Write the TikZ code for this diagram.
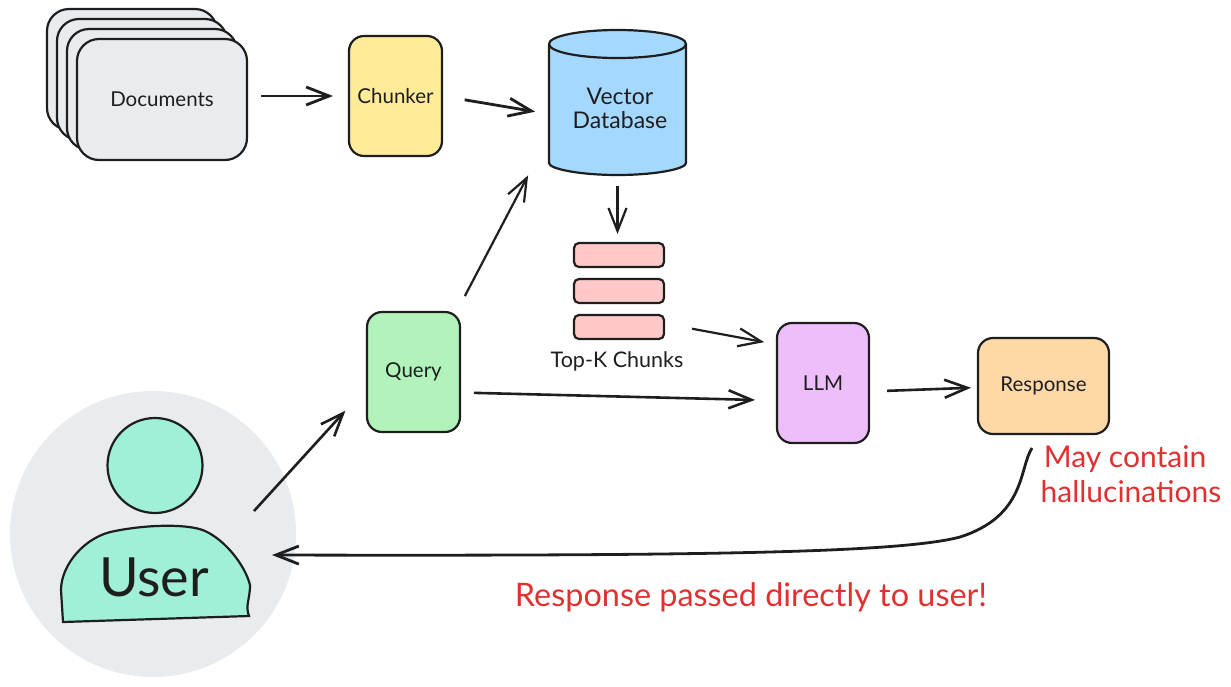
\documentclass[tikz,border=0pt]{standalone}
\usepackage{fontspec}
\setmainfont{Lato}
\usetikzlibrary{arrows.meta}

\definecolor{inkblack}{HTML}{1E1E1E}
\definecolor{docgray}{HTML}{E9ECEF}
\definecolor{chunkeryellow}{HTML}{FFEC99}
\definecolor{dbblue}{HTML}{A5D8FF}
\definecolor{chunkred}{HTML}{FFC9C9}
\definecolor{querygreen}{HTML}{B2F2BB}
\definecolor{llmpurple}{HTML}{EEBEFA}
\definecolor{resporange}{HTML}{FFD8A8}
\definecolor{usermint}{HTML}{9FF0D7}
\definecolor{notered}{HTML}{E03131}

\begin{document}
\begin{tikzpicture}
    [x=1pt,y=-1pt,%%%%%%%%%%%%%%%%%%%%%%%%%%%%%%
    box/.style={rectangle,draw=inkblack,line width=2.2pt,rounded corners=15pt,inner sep=0pt,outer sep=0pt,text=inkblack,font=\fontsize{20.5}{24}\selectfont},
    card/.style={box,fill=docgray,minimum width=170pt,minimum height=121pt,rounded corners=22pt},
    chunkbox/.style={box,fill=chunkred,minimum width=90pt,minimum height=24pt,rounded corners=5pt},
    arrowline/.style={-{Straight Barb[length=23pt,width=18pt]},draw=inkblack,line width=2.2pt},
    redtext/.style={text=notered,inner sep=0pt,font=\fontsize{30}{36}\selectfont},
    ]%%%%%%%%%%%%%%%%%%%%%%%%%%%%%%

    \useasboundingbox (0,0) rectangle (1231,686);

    % documents
    \node[card] at (132,69.5) (doc_d) {};
    \node[card] at (142,79.5) (doc_c) {};
    \node[card] at (152,89.5) (doc_b) {};
    \node[card] at (162,99.5) (documents) {Documents};

    % chunker
    \node[box,fill=chunkeryellow,minimum width=93pt,minimum height=120pt] at (395.5,96) (chunker) {Chunker};

    % database
    \draw[fill=dbblue,draw=inkblack,line width=2.2pt] (549,44) -- (549,163) .. controls (549,169) and (580,175) .. (617.5,175) .. controls (655,175) and (686,169) .. (686,163) -- (686,44) .. controls (686,36) and (655,30) .. (617.5,30) .. controls (580,30) and (549,36) .. (549,44) -- cycle;
    \draw[draw=inkblack,line width=2.2pt] (549,44) .. controls (549,52) and (580,58) .. (617.5,58) .. controls (655,58) and (686,52) .. (686,44);
    \node[minimum width=137pt,minimum height=145pt,inner sep=0pt,outer sep=0pt] at (617.5,102.5) (db) {};
    \node[text=inkblack,align=center,inner sep=0pt,font=\fontsize{23}{24}\selectfont] at (620,108) (db_text) {Vector\\Database};

    % top-k chunks
    \node[chunkbox] at (619,255) (chunk_a) {};
    \node[chunkbox] at (619,291) (chunk_b) {};
    \node[chunkbox] at (619,327) (chunk_c) {};
    \node[text=inkblack,inner sep=0pt,font=\fontsize{21.5}{24}\selectfont] at (617,361) (chunk_text) {Top-K Chunks};

    % query, llm, response
    \node[box,fill=querygreen,minimum width=93pt,minimum height=120pt] at (413.5,372) (query) {Query};
    \node[box,fill=llmpurple,minimum width=92pt,minimum height=120pt] at (823,383) (llm) {LLM};
    \node[box,fill=resporange,minimum width=131pt,minimum height=96pt] at (1043.5,386) (response) {Response};

    % user
    \node[circle,fill=docgray,minimum size=286pt,inner sep=0pt] at (153,534) (user) {};
    \node[circle,fill=usermint,draw=inkblack,line width=2.2pt,minimum size=95pt,inner sep=0pt] at (155,465.5) (head) {};
    \draw[fill=usermint,draw=inkblack,line width=2.2pt] (63,622) -- (61,590) .. controls (61,565) and (85,536) .. (115,531) .. controls (150,524) and (190,524) .. (205,531) .. controls (225,540) and (245,565) .. (250,585) .. controls (250,600) and (245,605) .. (249,616) -- cycle;
    \node[text=inkblack,inner sep=0pt,font=\fontsize{54}{58}\selectfont] at (154,577) (user_text) {User};
    \coordinate (user_out) at (254,511);
    \coordinate (user_in) at (272,555);
    \coordinate (response_out) at (1032,448);

    % notes
    \node[redtext] at (1125,459) (note_a) {May contain};
    \node[redtext] at (1131,492) (note_b) {hallucinations};
    \node[redtext,font=\fontsize{32.4}{36}\selectfont] at (751,597) (note_c) {Response passed directly to user!};

    % connectors
    \draw[arrowline,line width=2.8pt,shorten <=14pt,shorten >=16pt] ([yshift=3.5pt]documents.east) -- (chunker.west);
    \draw[arrowline,line width=2.8pt,shorten <=23pt,shorten >=14pt] (chunker.east) -- ([shift={(-68.5pt,-11.5pt)}]db.center);
    \draw[arrowline,shorten <=11pt,shorten >=9pt] (db.south) -- (chunk_a.north -| db.south);
    \draw[arrowline,shorten <=18pt,shorten >=45pt] ([xshift=43pt]query.north) -- ([shift={(-68.5pt,-33pt)}]db.center);
    \draw[arrowline,shorten <=28.5pt,shorten >=13pt] ([yshift=3.5pt]chunk_c.east) -- ([yshift=38.5pt]llm.west);
    \draw[arrowline,line width=2.6pt,shorten <=14pt,shorten >=22pt] ([yshift=-20.5pt]query.east) -- ([yshift=-17.5pt]llm.west);
    \draw[arrowline,line width=2.6pt,shorten <=18pt,shorten >=7pt] ([yshift=-8.5pt]llm.east) -- ([yshift=-1.5pt]response.west);
    \draw[arrowline,line width=2.6pt,shorten >=32pt] (user_out) -- ([yshift=-15pt]query.west);
    \draw[arrowline,line width=2.8pt] (response_out) .. controls (1019,468) and (1026,516) .. (960,537) .. controls (900,553) and (700,556) .. (user_in);

\end{tikzpicture}
\end{document}
